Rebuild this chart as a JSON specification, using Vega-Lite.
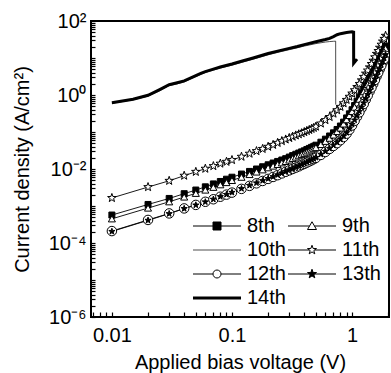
{
"$schema":"https://vega.github.io/schema/vega-lite/v6.json",
"width":298,"height":296,
"autosize":{"type":"none"},
"padding":{"left":91,"top":21,"right":2,"bottom":56},
"background":"white",
"config":{"view":{"stroke":"black","strokeWidth":2},"font":"Liberation Sans"},
"data":{"values":[
{"s":"11th","v":0.01,"j":0.00165},{"s":"11th","v":0.02,"j":0.00325},{"s":"11th","v":0.03,"j":0.0048},{"s":"11th","v":0.04,"j":0.0066},{"s":"11th","v":0.05,"j":0.0084},{"s":"11th","v":0.06,"j":0.0102},{"s":"11th","v":0.07,"j":0.012},{"s":"11th","v":0.08,"j":0.014},{"s":"11th","v":0.09,"j":0.0157},{"s":"11th","v":0.1,"j":0.0175},{"s":"11th","v":0.12,"j":0.0215},{"s":"11th","v":0.14,"j":0.026},{"s":"11th","v":0.16,"j":0.0305},{"s":"11th","v":0.18,"j":0.035},{"s":"11th","v":0.2,"j":0.04},{"s":"11th","v":0.22,"j":0.045},{"s":"11th","v":0.24,"j":0.051},{"s":"11th","v":0.26,"j":0.057},{"s":"11th","v":0.28,"j":0.063},{"s":"11th","v":0.3,"j":0.069},{"s":"11th","v":0.32,"j":0.075},{"s":"11th","v":0.34,"j":0.081},{"s":"11th","v":0.36,"j":0.087},{"s":"11th","v":0.38,"j":0.093},{"s":"11th","v":0.4,"j":0.1},{"s":"11th","v":0.42,"j":0.107},{"s":"11th","v":0.44,"j":0.114},{"s":"11th","v":0.46,"j":0.122},{"s":"11th","v":0.48,"j":0.13},{"s":"11th","v":0.5,"j":0.14},{"s":"11th","v":0.55,"j":0.17},{"s":"11th","v":0.6,"j":0.21},{"s":"11th","v":0.65,"j":0.255},{"s":"11th","v":0.7,"j":0.315},{"s":"11th","v":0.75,"j":0.39},{"s":"11th","v":0.8,"j":0.48},{"s":"11th","v":0.85,"j":0.6},{"s":"11th","v":0.9,"j":0.74},{"s":"11th","v":0.95,"j":0.9},{"s":"11th","v":1,"j":1.1},{"s":"11th","v":1.1,"j":1.65},{"s":"11th","v":1.2,"j":2.5},{"s":"11th","v":1.3,"j":3.8},{"s":"11th","v":1.4,"j":5.6},{"s":"11th","v":1.5,"j":8.5},{"s":"11th","v":1.6,"j":13},{"s":"11th","v":1.7,"j":19},{"s":"11th","v":1.8,"j":28},{"s":"11th","v":1.9,"j":40},
{"s":"11th","v":1.05,"j":1.35},{"s":"11th","v":1.15,"j":2.0},{"s":"11th","v":1.25,"j":3.1},{"s":"11th","v":1.35,"j":4.6},{"s":"11th","v":1.45,"j":6.9},{"s":"11th","v":1.55,"j":10.5},{"s":"11th","v":1.65,"j":15.5},{"s":"11th","v":1.75,"j":23},{"s":"11th","v":1.85,"j":33},
{"s":"8th","v":0.01,"j":0.00057},{"s":"8th","v":0.02,"j":0.0011},{"s":"8th","v":0.03,"j":0.0016},{"s":"8th","v":0.04,"j":0.00215},{"s":"8th","v":0.05,"j":0.0027},{"s":"8th","v":0.06,"j":0.0033},{"s":"8th","v":0.07,"j":0.00395},{"s":"8th","v":0.08,"j":0.0046},{"s":"8th","v":0.09,"j":0.0053},{"s":"8th","v":0.1,"j":0.006},{"s":"8th","v":0.12,"j":0.0073},{"s":"8th","v":0.14,"j":0.0086},{"s":"8th","v":0.16,"j":0.01},{"s":"8th","v":0.18,"j":0.0115},{"s":"8th","v":0.2,"j":0.013},{"s":"8th","v":0.22,"j":0.0145},{"s":"8th","v":0.24,"j":0.016},{"s":"8th","v":0.26,"j":0.0175},{"s":"8th","v":0.28,"j":0.019},{"s":"8th","v":0.3,"j":0.021},{"s":"8th","v":0.32,"j":0.023},{"s":"8th","v":0.34,"j":0.025},{"s":"8th","v":0.36,"j":0.027},{"s":"8th","v":0.38,"j":0.029},{"s":"8th","v":0.4,"j":0.031},{"s":"8th","v":0.42,"j":0.0335},{"s":"8th","v":0.44,"j":0.036},{"s":"8th","v":0.46,"j":0.0385},{"s":"8th","v":0.48,"j":0.041},{"s":"8th","v":0.5,"j":0.044},{"s":"8th","v":0.55,"j":0.053},{"s":"8th","v":0.6,"j":0.064},{"s":"8th","v":0.65,"j":0.078},{"s":"8th","v":0.7,"j":0.095},{"s":"8th","v":0.75,"j":0.117},{"s":"8th","v":0.8,"j":0.145},{"s":"8th","v":0.85,"j":0.185},{"s":"8th","v":0.9,"j":0.24},{"s":"8th","v":0.95,"j":0.31},{"s":"8th","v":1,"j":0.4},{"s":"8th","v":1.1,"j":0.68},{"s":"8th","v":1.2,"j":1.1},{"s":"8th","v":1.3,"j":1.75},{"s":"8th","v":1.4,"j":2.7},{"s":"8th","v":1.5,"j":4.1},{"s":"8th","v":1.6,"j":6.2},{"s":"8th","v":1.7,"j":9.3},{"s":"8th","v":1.8,"j":14},{"s":"8th","v":1.9,"j":21},
{"s":"8th","v":1.05,"j":0.52},{"s":"8th","v":1.15,"j":0.87},{"s":"8th","v":1.25,"j":1.4},{"s":"8th","v":1.35,"j":2.15},{"s":"8th","v":1.45,"j":3.3},{"s":"8th","v":1.55,"j":5.0},{"s":"8th","v":1.65,"j":7.6},{"s":"8th","v":1.75,"j":11.4},{"s":"8th","v":1.85,"j":17.3},
{"s":"9th","v":0.01,"j":0.00045},{"s":"9th","v":0.02,"j":0.00088},{"s":"9th","v":0.03,"j":0.0013},{"s":"9th","v":0.04,"j":0.00175},{"s":"9th","v":0.05,"j":0.0022},{"s":"9th","v":0.06,"j":0.0027},{"s":"9th","v":0.07,"j":0.0032},{"s":"9th","v":0.08,"j":0.00375},{"s":"9th","v":0.09,"j":0.0043},{"s":"9th","v":0.1,"j":0.0049},{"s":"9th","v":0.12,"j":0.006},{"s":"9th","v":0.14,"j":0.0071},{"s":"9th","v":0.16,"j":0.0083},{"s":"9th","v":0.18,"j":0.0095},{"s":"9th","v":0.2,"j":0.0108},{"s":"9th","v":0.22,"j":0.012},{"s":"9th","v":0.24,"j":0.0133},{"s":"9th","v":0.26,"j":0.0147},{"s":"9th","v":0.28,"j":0.016},{"s":"9th","v":0.3,"j":0.0175},{"s":"9th","v":0.32,"j":0.0192},{"s":"9th","v":0.34,"j":0.021},{"s":"9th","v":0.36,"j":0.0228},{"s":"9th","v":0.38,"j":0.0246},{"s":"9th","v":0.4,"j":0.0265},{"s":"9th","v":0.42,"j":0.0286},{"s":"9th","v":0.44,"j":0.0308},{"s":"9th","v":0.46,"j":0.033},{"s":"9th","v":0.48,"j":0.0355},{"s":"9th","v":0.5,"j":0.038},{"s":"9th","v":0.55,"j":0.046},{"s":"9th","v":0.6,"j":0.056},{"s":"9th","v":0.65,"j":0.068},{"s":"9th","v":0.7,"j":0.083},{"s":"9th","v":0.75,"j":0.103},{"s":"9th","v":0.8,"j":0.128},{"s":"9th","v":0.85,"j":0.165},{"s":"9th","v":0.9,"j":0.215},{"s":"9th","v":0.95,"j":0.28},{"s":"9th","v":1,"j":0.36},{"s":"9th","v":1.1,"j":0.6},{"s":"9th","v":1.2,"j":0.98},{"s":"9th","v":1.3,"j":1.55},{"s":"9th","v":1.4,"j":2.4},{"s":"9th","v":1.5,"j":3.6},{"s":"9th","v":1.6,"j":5.4},{"s":"9th","v":1.7,"j":8.1},{"s":"9th","v":1.8,"j":12},{"s":"9th","v":1.9,"j":18},
{"s":"9th","v":1.05,"j":0.47},{"s":"9th","v":1.15,"j":0.77},{"s":"9th","v":1.25,"j":1.23},{"s":"9th","v":1.35,"j":1.93},{"s":"9th","v":1.45,"j":2.95},{"s":"9th","v":1.55,"j":4.4},{"s":"9th","v":1.65,"j":6.6},{"s":"9th","v":1.75,"j":9.9},{"s":"9th","v":1.85,"j":14.7},
{"s":"12th","v":0.01,"j":0.00021},{"s":"12th","v":0.02,"j":0.00042},{"s":"12th","v":0.03,"j":0.00063},{"s":"12th","v":0.04,"j":0.00086},{"s":"12th","v":0.05,"j":0.00107},{"s":"12th","v":0.06,"j":0.0013},{"s":"12th","v":0.07,"j":0.00152},{"s":"12th","v":0.08,"j":0.00178},{"s":"12th","v":0.09,"j":0.00203},{"s":"12th","v":0.1,"j":0.0023},{"s":"12th","v":0.12,"j":0.0029},{"s":"12th","v":0.14,"j":0.0035},{"s":"12th","v":0.16,"j":0.0041},{"s":"12th","v":0.18,"j":0.00475},{"s":"12th","v":0.2,"j":0.0054},{"s":"12th","v":0.22,"j":0.0061},{"s":"12th","v":0.24,"j":0.0068},{"s":"12th","v":0.26,"j":0.0076},{"s":"12th","v":0.28,"j":0.0084},{"s":"12th","v":0.3,"j":0.0092},{"s":"12th","v":0.32,"j":0.01},{"s":"12th","v":0.34,"j":0.0109},{"s":"12th","v":0.36,"j":0.0118},{"s":"12th","v":0.38,"j":0.0128},{"s":"12th","v":0.4,"j":0.0138},{"s":"12th","v":0.42,"j":0.0149},{"s":"12th","v":0.44,"j":0.016},{"s":"12th","v":0.46,"j":0.0172},{"s":"12th","v":0.48,"j":0.0185},{"s":"12th","v":0.5,"j":0.02},{"s":"12th","v":0.55,"j":0.024},{"s":"12th","v":0.6,"j":0.029},{"s":"12th","v":0.65,"j":0.035},{"s":"12th","v":0.7,"j":0.042},{"s":"12th","v":0.75,"j":0.05},{"s":"12th","v":0.8,"j":0.06},{"s":"12th","v":0.85,"j":0.073},{"s":"12th","v":0.9,"j":0.09},{"s":"12th","v":0.95,"j":0.115},{"s":"12th","v":1,"j":0.15},{"s":"12th","v":1.1,"j":0.26},{"s":"12th","v":1.2,"j":0.44},{"s":"12th","v":1.3,"j":0.75},{"s":"12th","v":1.4,"j":1.25},{"s":"12th","v":1.5,"j":2},{"s":"12th","v":1.6,"j":3.2},{"s":"12th","v":1.7,"j":5},{"s":"12th","v":1.8,"j":7.7},{"s":"12th","v":1.9,"j":11.5},
{"s":"12th","v":1.05,"j":0.2},{"s":"12th","v":1.15,"j":0.34},{"s":"12th","v":1.25,"j":0.57},{"s":"12th","v":1.35,"j":0.97},{"s":"12th","v":1.45,"j":1.58},{"s":"12th","v":1.55,"j":2.55},{"s":"12th","v":1.65,"j":4.0},{"s":"12th","v":1.75,"j":6.2},{"s":"12th","v":1.85,"j":9.4},
{"s":"13th","v":0.01,"j":0.000205},{"s":"13th","v":0.02,"j":0.00041},{"s":"13th","v":0.03,"j":0.00062},{"s":"13th","v":0.04,"j":0.00085},{"s":"13th","v":0.05,"j":0.00106},{"s":"13th","v":0.06,"j":0.00129},{"s":"13th","v":0.07,"j":0.00152},{"s":"13th","v":0.08,"j":0.00179},{"s":"13th","v":0.09,"j":0.00205},{"s":"13th","v":0.1,"j":0.00233},{"s":"13th","v":0.12,"j":0.00295},{"s":"13th","v":0.14,"j":0.0036},{"s":"13th","v":0.16,"j":0.0042},{"s":"13th","v":0.18,"j":0.00485},{"s":"13th","v":0.2,"j":0.0055},{"s":"13th","v":0.22,"j":0.0062},{"s":"13th","v":0.24,"j":0.00695},{"s":"13th","v":0.26,"j":0.00775},{"s":"13th","v":0.28,"j":0.0086},{"s":"13th","v":0.3,"j":0.0094},{"s":"13th","v":0.32,"j":0.0102},{"s":"13th","v":0.34,"j":0.0112},{"s":"13th","v":0.36,"j":0.0121},{"s":"13th","v":0.38,"j":0.0131},{"s":"13th","v":0.4,"j":0.0142},{"s":"13th","v":0.42,"j":0.0153},{"s":"13th","v":0.44,"j":0.0165},{"s":"13th","v":0.46,"j":0.0177},{"s":"13th","v":0.48,"j":0.019},{"s":"13th","v":0.5,"j":0.0205},{"s":"13th","v":0.55,"j":0.025},{"s":"13th","v":0.6,"j":0.03},{"s":"13th","v":0.65,"j":0.036},{"s":"13th","v":0.7,"j":0.044},{"s":"13th","v":0.75,"j":0.053},{"s":"13th","v":0.8,"j":0.064},{"s":"13th","v":0.85,"j":0.078},{"s":"13th","v":0.9,"j":0.096},{"s":"13th","v":0.95,"j":0.123},{"s":"13th","v":1,"j":0.16},{"s":"13th","v":1.1,"j":0.28},{"s":"13th","v":1.2,"j":0.47},{"s":"13th","v":1.3,"j":0.8},{"s":"13th","v":1.4,"j":1.33},{"s":"13th","v":1.5,"j":2.15},{"s":"13th","v":1.6,"j":3.4},{"s":"13th","v":1.7,"j":5.3},{"s":"13th","v":1.8,"j":8.2},{"s":"13th","v":1.9,"j":12.3},
{"s":"13th","v":1.05,"j":0.21},{"s":"13th","v":1.15,"j":0.36},{"s":"13th","v":1.25,"j":0.61},{"s":"13th","v":1.35,"j":1.03},{"s":"13th","v":1.45,"j":1.69},{"s":"13th","v":1.55,"j":2.7},{"s":"13th","v":1.65,"j":4.25},{"s":"13th","v":1.75,"j":6.6},{"s":"13th","v":1.85,"j":10},
{"s":"10th","v":0.01,"j":0.6},{"s":"10th","v":0.015,"j":0.74},{"s":"10th","v":0.02,"j":0.93},{"s":"10th","v":0.025,"j":1.3},{"s":"10th","v":0.03,"j":1.8},{"s":"10th","v":0.035,"j":2.0},{"s":"10th","v":0.04,"j":2.25},{"s":"10th","v":0.045,"j":2.7},{"s":"10th","v":0.05,"j":3.15},{"s":"10th","v":0.055,"j":3.6},{"s":"10th","v":0.06,"j":4.05},{"s":"10th","v":0.07,"j":4.7},{"s":"10th","v":0.08,"j":5.35},{"s":"10th","v":0.1,"j":6.4},{"s":"10th","v":0.12,"j":7.6},{"s":"10th","v":0.15,"j":9.3},{"s":"10th","v":0.2,"j":12.2},{"s":"10th","v":0.25,"j":14.6},{"s":"10th","v":0.3,"j":16.8},{"s":"10th","v":0.35,"j":18.9},{"s":"10th","v":0.4,"j":21},{"s":"10th","v":0.5,"j":24.5},{"s":"10th","v":0.6,"j":27},{"s":"10th","v":0.65,"j":27.8},{"s":"10th","v":0.7,"j":28.3},{"s":"10th","v":0.73,"j":28.5},{"s":"10th","v":0.731,"j":0.55},
{"s":"14th","v":0.01,"j":0.62},{"s":"14th","v":0.015,"j":0.77},{"s":"14th","v":0.02,"j":0.98},{"s":"14th","v":0.025,"j":1.4},{"s":"14th","v":0.03,"j":1.9},{"s":"14th","v":0.035,"j":2.15},{"s":"14th","v":0.04,"j":2.4},{"s":"14th","v":0.045,"j":2.85},{"s":"14th","v":0.05,"j":3.35},{"s":"14th","v":0.055,"j":3.85},{"s":"14th","v":0.06,"j":4.3},{"s":"14th","v":0.07,"j":5.0},{"s":"14th","v":0.08,"j":5.7},{"s":"14th","v":0.1,"j":6.9},{"s":"14th","v":0.12,"j":8.2},{"s":"14th","v":0.15,"j":10},{"s":"14th","v":0.2,"j":13.2},{"s":"14th","v":0.25,"j":15.8},{"s":"14th","v":0.3,"j":18.2},{"s":"14th","v":0.35,"j":20.5},{"s":"14th","v":0.4,"j":23},{"s":"14th","v":0.5,"j":27.5},{"s":"14th","v":0.6,"j":31.5},{"s":"14th","v":0.65,"j":34},{"s":"14th","v":0.7,"j":38},{"s":"14th","v":0.75,"j":42.5},{"s":"14th","v":0.8,"j":45.5},{"s":"14th","v":0.9,"j":49},{"s":"14th","v":1.0,"j":51},{"s":"14th","v":1.03,"j":50},{"s":"14th","v":1.031,"j":7.2},{"s":"14th","v":1.1,"j":9.3}
]},
"layer":[
{"mark":{"type":"line","clip":true,"color":"black"},
 "encoding":{
  "x":{"field":"v","type":"quantitative","scale":{"type":"log","domain":[0.0067,2.03],"nice":false},
   "axis":{"values":[0.007,0.008,0.009,0.01,0.02,0.03,0.04,0.05,0.06,0.07,0.08,0.09,0.1,0.2,0.3,0.4,0.5,0.6,0.7,0.8,0.9,1,2],
    "labelExpr":"datum.value==0.01?'0.01':datum.value==0.1?'0.1':datum.value==1?'1':''",
    "offset":-5,"tickSize":5,"ticks":true,
    "tickColor":"black","tickWidth":1.2,"domain":false,"grid":false,"labelOverlap":false,"labelFlush":false,
    "labelFontSize":20,"labelFont":"Liberation Sans","labelColor":"black","labelPadding":8,
    "title":"Applied bias voltage (V)","titleFontSize":20,"titleFont":"Liberation Sans","titleFontWeight":"normal","titleColor":"black","titlePadding":7}},
  "y":{"field":"j","type":"quantitative","scale":{"type":"log","domain":[0.000001,100],"nice":false},
   "axis":{"values":[0.000001,0.000002,0.000003,0.000004,0.000005,0.000006,0.000007,0.000008,0.000009,0.00001,0.00002,0.00003,0.00004,0.00005,0.00006,0.00007,0.00008,0.00009,0.0001,0.0002,0.0003,0.0004,0.0005,0.0006,0.0007,0.0008,0.0009,0.001,0.002,0.003,0.004,0.005,0.006,0.007,0.008,0.009,0.01,0.02,0.03,0.04,0.05,0.06,0.07,0.08,0.09,0.1,0.2,0.3,0.4,0.5,0.6,0.7,0.8,0.9,1,2,3,4,5,6,7,8,9,10,20,30,40,50,60,70,80,90,100],
    "labelExpr":"datum.value==100?'10²':datum.value==1?'10⁰':datum.value==0.01?'10⁻²':datum.value==0.0001?'10⁻⁴':datum.value==0.000001?'10⁻⁶':''",
    "offset":-4,"tickSize":4,"ticks":true,
    "tickColor":"black","tickWidth":1.2,"domain":false,"grid":false,"labelOverlap":false,"labelFlush":false,
    "labelFontSize":20,"labelFont":"Liberation Sans","labelColor":"black","labelPadding":5,
    "title":"Current density (A/cm²)","titleFontSize":20,"titleFont":"Liberation Sans","titleFontWeight":"normal","titleColor":"black","titlePadding":16}},
  "detail":{"field":"s"},
  "strokeWidth":{"condition":[{"test":"datum.s=='14th'","value":3},{"test":"datum.s=='10th'","value":0.7}],"value":0.9}
 }},
{"transform":[{"filter":"datum.s!='10th' && datum.s!='14th'"}],
 "mark":{"type":"point","clip":true,"filled":true,"stroke":"black","strokeWidth":1,"opacity":1},
 "encoding":{
  "x":{"field":"v","type":"quantitative"},
  "y":{"field":"j","type":"quantitative"},
  "fill":{"condition":{"test":"datum.s=='8th'||datum.s=='13th'","value":"black"},"value":"white"},
  "size":{"condition":[{"test":"datum.s=='8th'","value":36},{"test":"datum.s=='9th'","value":50},{"test":"datum.s=='11th'","value":81},{"test":"datum.s=='12th'","value":90},{"test":"datum.s=='13th'","value":42}],"value":60},
  "shape":{"condition":[{"test":"datum.s=='8th'","value":"square"},{"test":"datum.s=='9th'","value":"triangle-up"},{"test":"datum.s=='11th'||datum.s=='13th'","value":"M0,-1L0.235,-0.324L0.951,-0.309L0.38,0.124L0.588,0.809L0,0.4L-0.588,0.809L-0.38,0.124L-0.951,-0.309L-0.235,-0.324Z"}],"value":"circle"}
 }},
{"transform":[{"filter":"false"}],
 "mark":{"type":"point","filled":true,"stroke":"black","opacity":1},
 "encoding":{
  "x":{"field":"v","type":"quantitative"},
  "y":{"field":"j","type":"quantitative"},
  "shape":{"field":"s","type":"nominal",
   "scale":{"domain":["8th","9th","10th","11th","12th","13th","14th"],
    "range":["M-4.8,0H4.8M-0.8,-0.8H0.8V0.8H-0.8Z","M-4.8,0H-0.49M0.49,0H4.8M0,-0.85L0.9,0.7H-0.9Z","M-4.8,0H4.8","M-4.8,0H-0.52M0.52,0H4.8M0,-0.95L0.22,-0.31L0.9,-0.29L0.36,0.12L0.56,0.77L0,0.38L-0.56,0.77L-0.36,0.12L-0.9,-0.29L-0.22,-0.31Z","M-4.8,0H-0.8M0.8,0H4.8M0.8,0A0.8,0.8,0,1,1,-0.8,0A0.8,0.8,0,1,1,0.8,0Z","M-4.8,0H4.8M0,-0.95L0.22,-0.31L0.9,-0.29L0.36,0.12L0.56,0.77L0,0.38L-0.56,0.77L-0.36,0.12L-0.9,-0.29L-0.22,-0.31Z","M-4.8,0H4.8"]},
   "legend":{"orient":"none","legendX":116,"legendY":195,"direction":"horizontal","columns":2,"columnPadding":0,"rowPadding":4,"symbolSize":100,"labelOffset":20,
    "labelFontSize":20,"labelFont":"Liberation Sans","labelColor":"black","labelBaseline":"middle","title":null,"padding":0,"symbolStrokeColor":"black","symbolOpacity":1}},
  "fill":{"field":"s","type":"nominal",
   "scale":{"domain":["8th","9th","10th","11th","12th","13th","14th"],"range":["black","white","transparent","white","white","black","transparent"]},
   "legend":{"orient":"none","legendX":116,"legendY":195,"direction":"horizontal","columns":2,"columnPadding":0,"rowPadding":4,"symbolSize":100,"labelOffset":20,
    "labelFontSize":20,"labelFont":"Liberation Sans","labelColor":"black","labelBaseline":"middle","title":null,"padding":0,"symbolStrokeColor":"black","symbolOpacity":1}},
  "stroke":{"field":"s","type":"nominal",
   "scale":{"domain":["8th","9th","10th","11th","12th","13th","14th"],"range":["black","black","black","black","black","black","black"]},
   "legend":{"orient":"none","legendX":116,"legendY":195,"direction":"horizontal","columns":2,"columnPadding":0,"rowPadding":4,"symbolSize":100,"labelOffset":20,
    "labelFontSize":20,"labelFont":"Liberation Sans","labelColor":"black","labelBaseline":"middle","title":null,"padding":0,"symbolStrokeColor":"black","symbolOpacity":1}},
  "strokeWidth":{"field":"s","type":"nominal",
   "scale":{"type":"ordinal","domain":["8th","9th","10th","11th","12th","13th","14th"],"range":[1,1,0.7,1,1,1,3]},
   "legend":{"orient":"none","legendX":116,"legendY":195,"direction":"horizontal","columns":2,"columnPadding":0,"rowPadding":4,"symbolSize":100,"labelOffset":20,
    "labelFontSize":20,"labelFont":"Liberation Sans","labelColor":"black","labelBaseline":"middle","title":null,"padding":0,"symbolStrokeColor":"black","symbolOpacity":1}}
 }}
]
}
